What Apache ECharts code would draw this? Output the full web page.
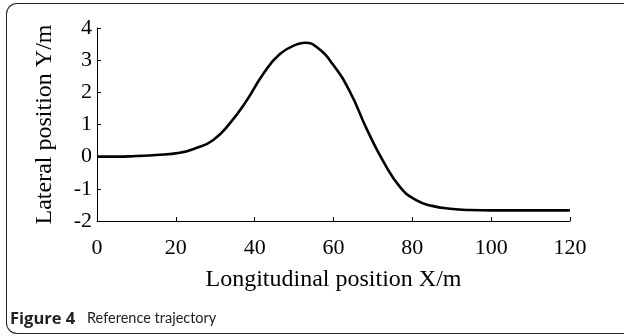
<!DOCTYPE html>
<html>
<head>
<meta charset="utf-8">
<script src="https://cdn.jsdelivr.net/npm/echarts@6/dist/echarts.min.js"></script>
<style>
    html, body { margin: 0; padding: 0; background: #fff; }
    #frame {
        position: absolute; left: 6px; top: 3px; width: 640px; height: 329px;
        border: 1px solid #222; border-right: none; border-radius: 11px 0 0 11px;
    }
    #trajectory_chart { position: absolute; left: 0; top: 0; width: 624px; height: 336px; }
</style>
</head>
<body>
<div id="frame"></div>
<div id="trajectory_chart"></div>
<script>
// 参考轨迹 读图数据
var posX = [0, 5, 10, 15, 21, 25, 29.5, 33.8, 38, 42.2, 46.4, 50.7, 52.8, 55.8, 60, 64.2, 68.5, 72.7, 77, 81.1, 85, 89.6, 94.7, 100, 110, 120];
var posY = [0, 0, 0.02, 0.05, 0.12, 0.26, 0.52, 1.05, 1.75, 2.58, 3.19, 3.49, 3.54, 3.4, 2.84, 2.01, 0.84, -0.16, -0.96, -1.36, -1.53, -1.62, -1.66, -1.67, -1.67, -1.67];
var xTicks = [0, 20, 40, 60, 80, 100, 120];
var yTicks = [-2, -1, 0, 1, 2, 3, 4];

var serif = 'Liberation Serif';

var points = [];
for (let i = 0; i < posX.length; i++) {
    points.push([posX[i], posY[i]]);
}

var trajectory_option = {
    animation: false,
    grid: {
        left: 97,
        right: 54,
        top: 28,
        bottom: 115
    },
    xAxis: {
        type: 'value',
        min: xTicks[0],
        max: xTicks[xTicks.length - 1],
        interval: 20,
        name: 'Longitudinal position X/m',
        nameLocation: 'middle',
        nameGap: 47,
        nameTextStyle: { fontFamily: serif, fontSize: 24, color: '#000' },
        axisLine: { onZero: false, lineStyle: { color: '#000', width: 1 } },
        axisTick: { inside: true, length: 4, lineStyle: { color: '#000' } },
        axisLabel: { fontFamily: serif, fontSize: 22, color: '#000', margin: 16 },
        splitLine: { show: false }
    },
    yAxis: {
        type: 'value',
        min: yTicks[0],
        max: yTicks[yTicks.length - 1],
        interval: 1,
        name: 'Lateral position Y/m',
        nameLocation: 'middle',
        nameGap: 40,
        nameTextStyle: { fontFamily: serif, fontSize: 24, color: '#000' },
        axisLine: { show: true, lineStyle: { color: '#000', width: 1 } },
        axisTick: { show: true, inside: true, length: 4, lineStyle: { color: '#000' } },
        axisLabel: { fontFamily: serif, fontSize: 22, color: '#000', margin: 5 },
        splitLine: { show: false }
    },
    graphic: [
        {
            type: 'text', left: 10, top: 311,
            style: { text: 'Figure 4', font: 'bold 16.5px "Open Sans"', fill: '#222' }
        },
        {
            type: 'text', left: 87, top: 311,
            style: { text: 'Reference trajectory', font: '14.5px Lato', fill: '#222' }
        }
    ],
    series: [
        {
            name: 'Reference trajectory',
            type: 'line',
            data: points,
            smooth: 0.5,
            showSymbol: false,
            lineStyle: { color: '#000', width: 2.6 }
        }
    ]
};

var trajectory_chart = echarts.init(document.getElementById('trajectory_chart'));
trajectory_chart.setOption(trajectory_option);
</script>
</body>
</html>
